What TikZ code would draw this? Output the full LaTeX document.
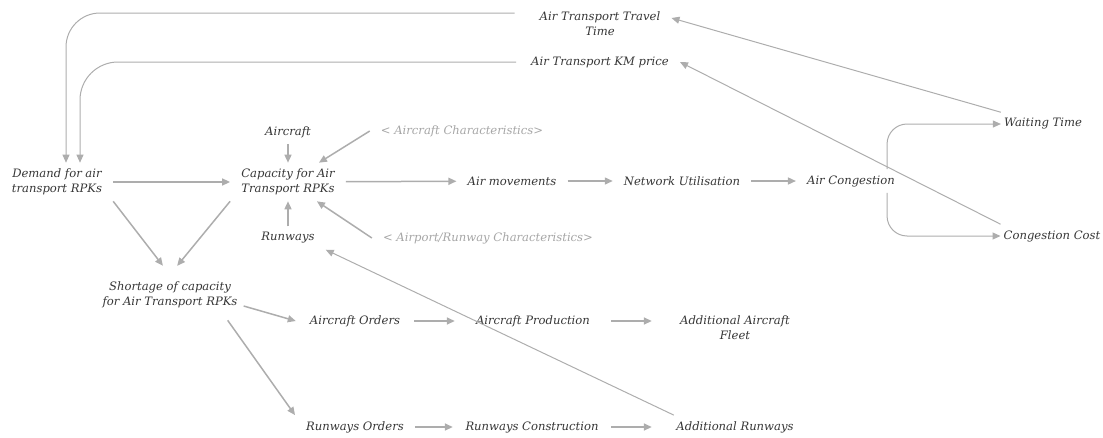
\documentclass[tikz,border=0pt]{standalone}
\usepackage{fontspec}
\setmainfont{DejaVu Serif}
\usepackage{tikz}
\usetikzlibrary{arrows.meta, positioning}

\definecolor{txtgray}{HTML}{363636}
\definecolor{chargray}{HTML}{A6A6A6}
\definecolor{linkgray}{HTML}{ADADAD}

\begin{document}
\begin{tikzpicture}[x=1pt, y=-1pt, every node/.style={font=\fontsize{11.6}{15}\selectfont\itshape, text=txtgray}]
\tikzstyle{var} = [inner xsep=11pt, inner ysep=6pt, align=center]
\tikzstyle{shadow} = [var, text=chargray]
\tikzstyle{arrow} = [-{Triangle[length=8pt, width=7pt]}, draw=linkgray, line width=1.5pt]
\tikzstyle{thin} = [-{Triangle[length=8pt, width=7pt]}, draw=linkgray, line width=1pt]

\useasboundingbox (0,0) rectangle (1103,437);

% Nodes
\node[var] (dem) at (57,182) {Demand for air\\transport RPKs};
\node[var] (cap) at (288,182) {Capacity for Air\\Transport RPKs};
\node[var] (acraft) at (288,132) {Aircraft};
\node[shadow] (achar) at (462,131) {< Aircraft Characteristics>};
\node[var] (runw) at (288,238) {Runways};
\node[shadow] (rchar) at (488,238) {< Airport/Runway Characteristics>};
\node[var] (airmov) at (512,181) {Air movements};
\node[var] (netu) at (682,181) {Network Utilisation};
\node[var] (cong) at (851,181) {Air Congestion};
\node[var, inner xsep=3pt] (wait) at (1043,124) {Waiting Time};
\node[var, inner xsep=3pt] (ccost) at (1052,236) {Congestion Cost};
\node[var] (travel) at (600,24) {Air Transport Travel\\Time};
\node[var] (kmprice) at (600,62) {Air Transport KM price};
\node[var, inner xsep=6pt, inner ysep=12pt] (short) at (170,295) {Shortage of capacity\\for Air Transport RPKs};
\node[var, minimum width=118pt] (aord) at (355,321) {Aircraft Orders};
\node[var, minimum width=156pt] (aprod) at (533,321) {Aircraft Production};
\node[var, minimum width=166pt] (afleet) at (735,328) {Additional Aircraft\\Fleet};
\node[var, minimum width=118pt] (rord) at (355,427) {Runways Orders};
\node[var, minimum width=158pt] (rcons) at (532,427) {Runways Construction};
\node[var, minimum width=166pt] (arw) at (735,427) {Additional Runways};

% Arrows
\draw[arrow] (dem) -- (cap);
\draw[arrow] (cap) -- (airmov);
\draw[arrow] (airmov) -- (netu);
\draw[arrow] (netu) -- (cong);
\draw[arrow] (acraft) -- (cap);
\draw[arrow] (achar.west) -- (cap);
\draw[arrow] (runw) -- (cap);
\draw[arrow] (rchar.west) -- (cap);
\draw[arrow, shorten >=5pt] (dem.south east) -- ([xshift=-4pt]short.north);
\draw[arrow, shorten >=5pt] (cap.south west) -- ([xshift=4pt]short.north);
\draw[arrow] ([yshift=-11pt]short.east) -- (aord.west);
\draw[arrow] ([xshift=-16pt]short.south east) -- (rord.north west);
\draw[arrow] (aord) -- (aprod);
\draw[arrow] (aprod.east) -- (aprod.east -| afleet.west);
\draw[arrow] (rord) -- (rcons);
\draw[arrow] (rcons) -- (arw);
\draw[thin] ([xshift=22pt]arw.north west) -- (runw.south east);
\draw[thin] (wait.north west) -- ([yshift=6pt]travel.east);
\draw[thin] (ccost.north west) -- (kmprice.east);
\draw[thin, rounded corners=20pt] ([xshift=-19pt]cong.north east) |- (wait.west);
\draw[thin, rounded corners=20pt] ([xshift=-19pt]cong.south east) |- (ccost.west);
\draw[thin, rounded corners=34pt] ([xshift=-14pt, yshift=11pt]travel.west) -| ([xshift=9pt]dem.north);
\draw[thin, rounded corners=38pt] ([xshift=-4pt]kmprice.west) -| ([xshift=23pt]dem.north);

\end{tikzpicture}
\end{document}
